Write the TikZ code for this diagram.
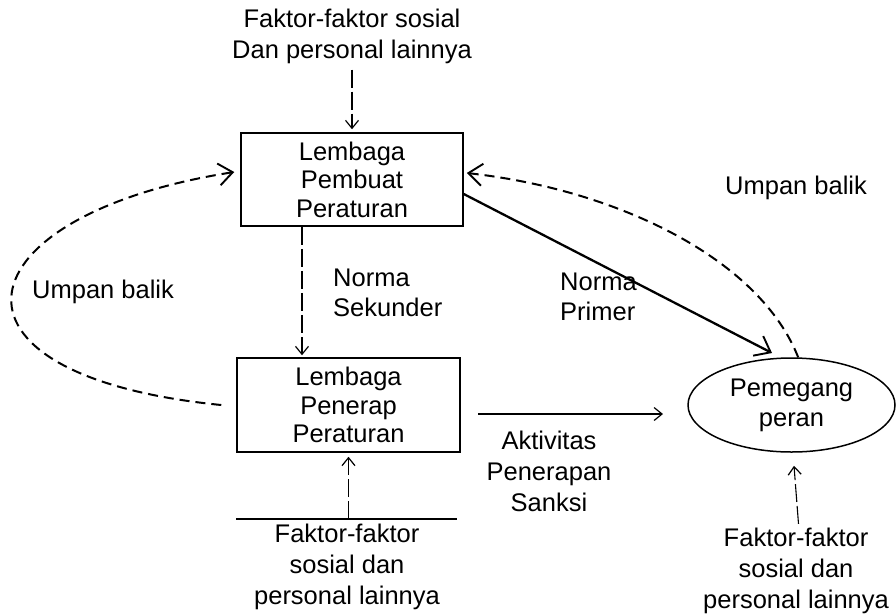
\documentclass[tikz,border=0pt]{standalone}
\usepackage{fontspec}
\setmainfont{Liberation Sans}
\usetikzlibrary{shapes.geometric,arrows.meta}
\tikzset{
  box/.style={draw, line width=1.5pt, inner sep=0pt, align=center, font=\fontsize{25.5}{28.5}\selectfont},
  txt/.style={inner sep=0pt, align=center, font=\fontsize{25.5}{31}\selectfont},
  ltxt/.style={inner sep=0pt, align=left, anchor=west, font=\fontsize{25.5}{30}\selectfont},
  thindash/.style={line width=1.1pt, dash pattern=on 18pt off 4pt},
  curvedash/.style={line width=2pt, dash pattern=on 10pt off 6pt},
  smalltip/.style={-{Straight Barb[length=8pt,width=13pt,line width=1.2pt]}},
  bigtip/.style={-{Straight Barb[length=14pt,width=22pt,line width=1.9pt]}}
}
\begin{document}
\begin{tikzpicture}[x=1pt,y=-1pt]
\useasboundingbox (0,0) rectangle (896,614);
% nodes
\node[txt] (ftop) at (352,36) {Faktor-faktor sosial\\Dan personal lainnya};
\node[box, minimum width=222pt, minimum height=93pt] (b1) at (352,179.5) {Lembaga\\Pembuat\\Peraturan};
\node[box, minimum width=223pt, minimum height=94pt] (b2) at (348.5,405) {Lembaga\\Penerap\\Peraturan};
\node[draw, ellipse, line width=1.5pt, inner sep=0pt, minimum width=207pt, minimum height=94pt,
      align=center, font=\fontsize{25.5}{30}\selectfont] (pp) at (791.5,405) {Pemegang\\peran};
\node[ltxt] (nsek) at (333,293) {Norma\\Sekunder};
\node[ltxt] (nprim) at (560,297) {Norma\\Primer};
\node[ltxt] (ubl) at (32,292) {Umpan balik};
\node[ltxt] (ubr) at (725,188) {Umpan balik};
\node[txt] (akt) at (549,471) {Aktivitas\\Penerapan\\Sanksi};
\node[txt] (fbl) at (347,567) {Faktor-faktor\\sosial dan\\personal lainnya};
\node[txt] (fbr) at (796,571) {Faktor-faktor\\sosial dan\\personal lainnya};
% coordinates
\coordinate (lineL) at (236,519);
\coordinate (lineR) at (457,519);
\coordinate (akS) at (478,414);
\coordinate (akE) at (663,414);
% underline of bottom-left text
\draw[line width=1.5pt] (lineL) -- (lineR);
% vertical dashed arrows
\draw[thindash, smalltip] ([yshift=-6pt]ftop.south) -- ([yshift=3pt]b1.north);
\draw[thindash, smalltip] ([xshift=-50pt]b1.south) -- ([xshift=-46.5pt,yshift=2pt]b2.north);
\draw[thindash, smalltip] (lineL -| b2.south) -- ([yshift=-4pt]b2.south);
\draw[thindash, smalltip] ([xshift=2.5pt,yshift=4pt]fbr.north) -- ([xshift=2.5pt,yshift=-13pt]pp.south);
% Aktivitas arrow
\draw[line width=1.5pt, smalltip] (akS) -- (akE);
% Norma Primer
\draw[line width=2.3pt, bigtip] ([yshift=-14.5pt]b1.east) -- ([shift={(-19.5,-52)}]pp.center);
% feedback curves
\draw[curvedash, bigtip] ([xshift=-15pt]b2.west) .. controls (-80,375) and (-40,215) .. ([xshift=-6pt,yshift=7.5pt]b1.west);
\draw[curvedash, bigtip] (pp.82) .. controls (760,260) and (620,190) .. ([xshift=3pt,yshift=6.5pt]b1.east);
\end{tikzpicture}
\end{document}
